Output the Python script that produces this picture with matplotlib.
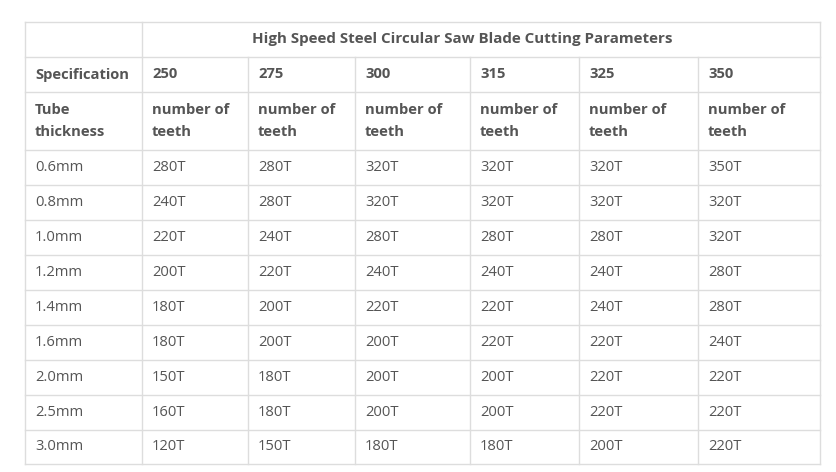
import matplotlib
matplotlib.use("Agg")
import matplotlib.pyplot as plt

title = "High Speed Steel Circular Saw Blade Cutting Parameters"
specs = ["250", "275", "300", "315", "325", "350"]
thickness = ["0.6mm", "0.8mm", "1.0mm", "1.2mm", "1.4mm", "1.6mm", "2.0mm", "2.5mm", "3.0mm"]
teeth = [
    ["280T", "280T", "320T", "320T", "320T", "350T"],
    ["240T", "280T", "320T", "320T", "320T", "320T"],
    ["220T", "240T", "280T", "280T", "280T", "320T"],
    ["200T", "220T", "240T", "240T", "240T", "280T"],
    ["180T", "200T", "220T", "220T", "240T", "280T"],
    ["180T", "200T", "200T", "220T", "220T", "240T"],
    ["150T", "180T", "200T", "200T", "220T", "220T"],
    ["160T", "180T", "200T", "200T", "220T", "220T"],
    ["120T", "150T", "180T", "180T", "200T", "220T"],
]

W, H = 836, 472
fig = plt.figure(figsize=(W / 100, H / 100), dpi=100)
ax = fig.add_axes([0, 0, 1, 1])
ax.set_xlim(0, W)
ax.set_ylim(H, 0)
ax.axis("off")

xs = [25, 142, 248, 355, 470, 579, 698, 820]
ys = [22, 57, 92, 150, 185, 220, 255, 290, 325, 360, 395, 430, 464]
lc = "#dddddd"
tc = "#555555"
fam = ["Open Sans", "DejaVu Sans"]
fs = 10.6

for y in ys:
    ax.plot([xs[0], xs[-1]], [y, y], color=lc, lw=1)
for j, x in enumerate(xs):
    y0 = ys[0] if j in (0, 1, len(xs) - 1) else ys[1]
    ax.plot([x, x], [y0, ys[-1]], color=lc, lw=1)

ax.text(462, (ys[0] + ys[1]) / 2, title, ha="center", va="center",
        fontsize=10.9, fontweight="bold", color=tc, family=fam)

pad = 10
ax.text(xs[0] + pad, (ys[1] + ys[2]) / 2, "Specification", ha="left", va="center",
        fontsize=fs, fontweight="bold", color=tc, family=fam)
for j, s in enumerate(specs):
    ax.text(xs[j + 1] + pad, (ys[1] + ys[2]) / 2, s, ha="left", va="center",
            fontsize=fs, fontweight="bold", color=tc, family=fam)

ax.text(xs[0] + pad, (ys[2] + ys[3]) / 2, "Tube\nthickness", ha="left", va="center",
        fontsize=fs, fontweight="bold", color=tc, family=fam, linespacing=1.8)
for j in range(len(specs)):
    ax.text(xs[j + 1] + pad, (ys[2] + ys[3]) / 2, "number of\nteeth", ha="left", va="center",
            fontsize=fs, fontweight="bold", color=tc, family=fam, linespacing=1.8)

for i, t in enumerate(thickness):
    yc = (ys[i + 3] + ys[i + 4]) / 2
    ax.text(xs[0] + pad, yc, t, ha="left", va="center", fontsize=fs, color=tc, family=fam)
    for j, v in enumerate(teeth[i]):
        ax.text(xs[j + 1] + pad, yc, v, ha="left", va="center", fontsize=fs, color=tc, family=fam)

fig.savefig("out.png", dpi=100, facecolor="white")
